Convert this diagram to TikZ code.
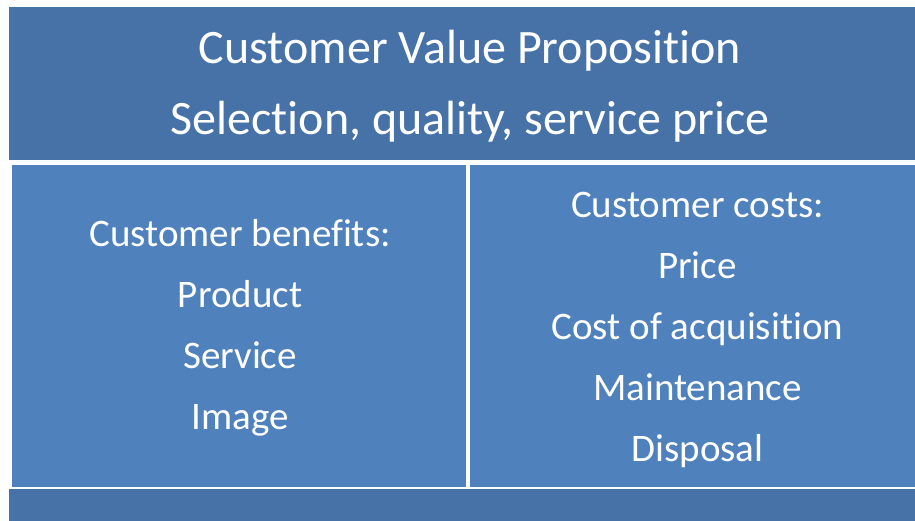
\documentclass[tikz,border=0pt]{standalone}
\usepackage{fontspec}
\setmainfont{Carlito}[Ligatures=NoCommon]
\definecolor{topblue}{HTML}{4672A8}
\definecolor{midblue}{HTML}{4F81BD}
\tikzset{
  panel/.style={fill=#1, draw=none, rectangle, inner sep=0pt},
  lbl/.style={align=center, text=white, inner sep=0pt},
  headtxt/.style={lbl, font=\fontsize{48}{71}\selectfont},
  bodytxt/.style={lbl, font=\fontsize{39}{61}\selectfont},
}
\begin{document}
\begin{tikzpicture}[x=1pt, y=-1pt]
\useasboundingbox (0,0) rectangle (915,521);

% panels
\node[panel=topblue, minimum width=906pt, minimum height=153pt] (prop) at (462,83.5) {};
\node[panel=midblue, minimum width=454pt, minimum height=322pt] (benefits) at (239,326) {};
\node[panel=midblue, minimum width=445pt, minimum height=322pt] (costs) at (692.5,326) {};
\node[panel=topblue, minimum width=906pt, minimum height=32pt] (base) at (462,505) {};

% texts
\node[headtxt] (proptxt) at ([shift={(8,2.5)}]prop.center)
  {Customer Value Proposition\\Selection, quality, service price};
\node[bodytxt] (benefitstxt) at ([shift={(1,1.5)}]benefits.center)
  {Customer benefits:\\Product\\Service\\Image};
\node[bodytxt] (coststxt) at ([shift={(5,3.5)}]costs.center)
  {Customer costs:\\Price\\Cost of acquisition\\Maintenance\\Disposal};

\end{tikzpicture}
\end{document}
